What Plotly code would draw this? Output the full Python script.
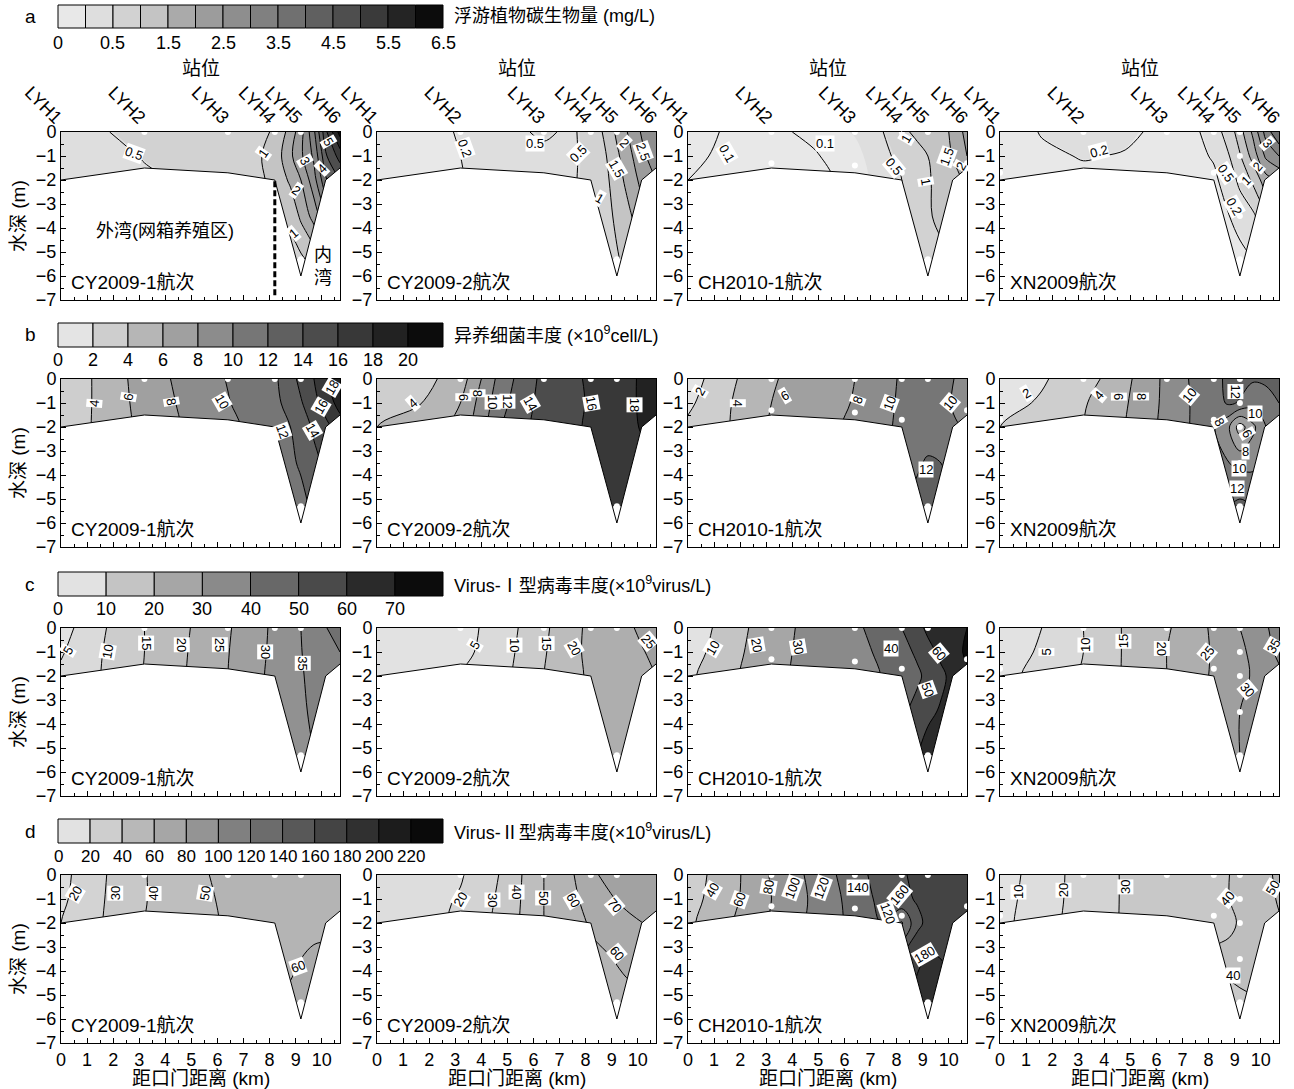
import numpy as np
import plotly.graph_objects as go

W, H = 1294, 1089
FONT = "Liberation Sans Narrow, Arial Narrow, Liberation Sans, Arial, Noto Sans CJK SC, sans-serif"

# ---------------- data ----------------
X_KM = [0, 1.6, 3.2, 4.8, 6.4, 7.4, 8.2, 8.8, 9.2, 9.7, 10.2, 10.7]
DEPTH_M = [0, -1, -2, -3.5, -5.3]
BED_X = [0, 3.2, 6.4, 8.2, 9.2, 10.15, 10.7]
BED_Y = [-2.0, -1.5, -1.7, -2.0, -6.0, -2.0, -1.5]
STATION_X = [0, 3.2, 6.4, 8.2, 9.2, 10.7]
STATION_LABELS = ["LYH1", "LYH2", "LYH3", "LYH4", "LYH5", "LYH6"]
CRUISES = ["CY2009-1航次", "CY2009-2航次", "CH2010-1航次", "XN2009航次"]
X_TICKS = list(range(0, 11))
Y_TICKS = [0, -1, -2, -3, -4, -5, -6, -7]

SAMPLE_X = [
    [3.2, 6.4, 8.2, 9.2, 9.2],
    [3.2, 6.4, 8.2, 9.2, 9.2],
    [3.2, 6.4, 8.2, 9.2, 3.2, 6.4, 8.2, 10.7, 9.2],
    [3.2, 6.4, 8.2, 9.2, 0, 8.2, 9.2, 9.2, 9.2, 9.2],
]
SAMPLE_Y = [
    [0, 0, 0, 0, -5.3],
    [0, 0, 0, 0, -5.3],
    [0, 0, 0, 0, -1.3, -1.4, -1.7, -1.3, -5.3],
    [0, 0, 0, 0, -1.7, -1.7, -1.0, -2.0, -3.5, -5.3],
]

# a: phytoplankton carbon biomass (mg/L)
PHYTO_CY2009_1 = [
    [0.30, 0.48, 0.60, 0.66, 0.72, 0.85, 1.05, 1.7, 2.3, 3.4, 5.0, 6.2],
    [0.30, 0.40, 0.52, 0.62, 0.72, 0.88, 1.2, 1.9, 2.4, 3.1, 4.5, 5.2],
    [0.30, 0.35, 0.45, 0.56, 0.68, 0.88, 1.1, 1.6, 2.0, 2.8, 4.0, 4.5],
    [0.30, 0.35, 0.45, 0.56, 0.68, 0.85, 1.0, 1.1, 1.6, 2.2, 3.0, 3.5],
    [0.30, 0.35, 0.45, 0.56, 0.68, 0.80, 0.85, 0.85, 0.9, 1.2, 2.0, 2.5],
]
PHYTO_CY2009_2 = [
    [0.12, 0.15, 0.21, 0.40, 0.55, 0.45, 0.6, 1.15, 1.6, 2.1, 2.6, 3.0],
    [0.12, 0.15, 0.20, 0.32, 0.42, 0.44, 0.6, 1.0, 1.4, 1.9, 2.4, 2.8],
    [0.12, 0.15, 0.19, 0.30, 0.40, 0.45, 0.6, 0.9, 1.3, 1.7, 2.2, 2.5],
    [0.12, 0.15, 0.19, 0.30, 0.40, 0.45, 0.7, 0.85, 1.1, 1.45, 1.8, 2.0],
    [0.12, 0.15, 0.19, 0.30, 0.40, 0.45, 0.7, 0.8, 0.95, 1.2, 1.5, 1.8],
]
PHYTO_CH2010_1 = [
    [0.13, 0.09, 0.08, 0.12, 0.22, 0.45, 0.9, 1.1, 1.2, 1.35, 1.6, 2.2],
    [0.11, 0.09, 0.08, 0.09, 0.15, 0.35, 0.65, 0.85, 1.0, 1.25, 1.55, 2.0],
    [0.10, 0.09, 0.08, 0.08, 0.12, 0.30, 0.5, 0.8, 0.95, 1.15, 1.35, 1.6],
    [0.10, 0.09, 0.08, 0.08, 0.12, 0.30, 0.6, 0.8, 0.95, 1.1, 1.2, 1.4],
    [0.10, 0.09, 0.08, 0.08, 0.12, 0.30, 0.6, 0.75, 0.8, 0.9, 1.0, 1.2],
]
PHYTO_XN2009 = [
    [0.10, 0.21, 0.26, 0.23, 0.16, 0.15, 0.3, 0.7, 1.3, 2.1, 3.2, 4.0],
    [0.10, 0.17, 0.21, 0.19, 0.14, 0.14, 0.22, 0.5, 0.95, 1.7, 2.6, 3.0],
    [0.10, 0.13, 0.16, 0.15, 0.13, 0.13, 0.16, 0.3, 0.6, 1.1, 1.8, 2.0],
    [0.10, 0.13, 0.16, 0.15, 0.13, 0.13, 0.14, 0.2, 0.25, 0.4, 0.9, 1.2],
    [0.10, 0.13, 0.16, 0.15, 0.13, 0.13, 0.13, 0.14, 0.16, 0.2, 0.4, 0.6],
]

# b: heterotrophic bacteria (x10^9 cell/L)
BACT_CY2009_1 = [
    [2.6, 4.5, 7.0, 8.6, 10.1, 11.0, 11.7, 13.2, 14.6, 16.0, 18.0, 19.5],
    [2.6, 4.5, 6.8, 8.4, 9.9, 10.8, 11.6, 12.6, 13.8, 15.4, 17.0, 18.8],
    [2.7, 4.5, 6.6, 8.2, 9.6, 10.4, 11.4, 12.0, 13.0, 14.3, 15.6, 17.0],
    [2.7, 4.5, 6.6, 8.2, 9.6, 10.4, 11.2, 11.6, 12.3, 13.5, 14.5, 16.0],
    [2.7, 4.5, 6.6, 8.2, 9.6, 10.4, 11.0, 11.0, 11.3, 12.5, 14.0, 15.0],
]
BACT_CY2009_2 = [
    [2.5, 3.2, 5.0, 11.0, 14.6, 15.4, 16.4, 16.8, 17.0, 17.6, 18.4, 19.0],
    [3.0, 3.9, 6.0, 11.5, 14.8, 15.5, 16.2, 16.8, 17.0, 17.6, 18.4, 19.0],
    [4.0, 4.5, 6.5, 12.0, 15.0, 15.6, 16.3, 16.8, 17.0, 17.6, 18.2, 18.8],
    [4.0, 4.5, 6.5, 12.0, 15.0, 15.6, 16.3, 16.6, 16.8, 17.0, 17.5, 18.0],
    [4.0, 4.5, 6.5, 12.0, 15.0, 15.6, 16.3, 16.5, 16.6, 16.8, 17.2, 17.5],
]
BACT_CH2010_1 = [
    [1.0, 3.6, 5.8, 7.0, 8.0, 9.0, 10.3, 10.8, 11.0, 10.8, 10.0, 9.5],
    [1.6, 3.9, 6.0, 7.2, 8.1, 9.2, 10.4, 11.0, 11.0, 10.7, 9.8, 9.2],
    [2.4, 4.0, 6.2, 7.4, 8.3, 9.4, 10.5, 11.0, 11.2, 10.9, 10.2, 9.8],
    [2.4, 4.0, 6.2, 7.4, 8.3, 9.4, 11.0, 11.8, 12.2, 12.0, 11.0, 10.5],
    [2.4, 4.0, 6.2, 7.4, 8.3, 9.4, 12.0, 12.5, 13.0, 12.5, 12.0, 11.0],
]
BACT_XN2009 = [
    [1.2, 1.8, 3.0, 5.5, 8.5, 10.3, 11.5, 12.4, 12.8, 12.2, 12.5, 13.5],
    [1.4, 2.2, 3.8, 5.8, 8.5, 10.2, 11.2, 12.3, 11.8, 10.8, 10.8, 12.0],
    [2.0, 2.8, 4.0, 6.0, 8.6, 10.2, 10.2, 8.0, 5.0, 7.5, 10.0, 11.0],
    [2.0, 2.8, 4.0, 6.0, 8.6, 10.2, 10.5, 10.0, 9.5, 9.5, 10.5, 11.0],
    [2.0, 2.8, 4.0, 6.0, 8.6, 10.2, 11.5, 12.0, 12.5, 12.0, 11.5, 11.0],
]

# c: Virus-I abundance (x10^9 virus/L)
VIRUS1_CY2009_1 = [
    [3.0, 9.5, 15.0, 19.5, 24.5, 28.0, 31.0, 33.5, 35.0, 37.5, 40.0, 42.0],
    [4.5, 10.0, 15.0, 19.8, 24.8, 28.5, 31.0, 33.0, 34.8, 37.0, 39.0, 40.0],
    [6.0, 10.2, 15.2, 20.0, 25.0, 28.8, 31.2, 32.8, 34.5, 36.5, 38.0, 39.0],
    [6.0, 10.2, 15.2, 20.0, 25.0, 28.8, 31.5, 32.5, 34.0, 36.0, 37.0, 38.0],
    [6.0, 10.2, 15.2, 20.0, 25.0, 28.8, 32.0, 32.5, 33.5, 35.0, 36.0, 37.0],
]
VIRUS1_CY2009_2 = [
    [1.0, 1.5, 3.0, 7.5, 14.0, 18.5, 21.0, 22.0, 23.0, 24.5, 26.0, 28.0],
    [1.0, 1.5, 3.5, 8.0, 14.5, 19.0, 20.8, 21.5, 22.5, 23.5, 24.8, 26.0],
    [1.0, 2.5, 5.0, 8.5, 15.0, 19.0, 20.5, 21.0, 22.0, 23.0, 24.0, 25.0],
    [1.0, 2.5, 5.0, 8.5, 15.0, 19.0, 20.5, 20.8, 21.2, 22.0, 23.0, 24.0],
    [1.0, 2.5, 5.0, 8.5, 15.0, 19.0, 20.5, 20.5, 21.0, 21.5, 22.0, 23.0],
]
VIRUS1_CH2010_1 = [
    [3.0, 15.0, 26.0, 33.0, 38.5, 43.0, 50.0, 57.0, 62.0, 66.0, 68.0, 70.0],
    [5.0, 16.5, 26.5, 33.5, 38.0, 41.0, 46.0, 52.0, 57.0, 62.0, 66.0, 72.0],
    [8.0, 18.0, 27.0, 34.0, 38.5, 40.0, 42.0, 48.0, 53.0, 58.0, 63.0, 68.0],
    [8.0, 18.0, 27.0, 34.0, 38.5, 40.0, 48.0, 54.0, 58.0, 61.0, 64.0, 66.0],
    [8.0, 18.0, 27.0, 34.0, 38.5, 40.0, 55.0, 60.0, 64.0, 66.0, 66.0, 66.0],
]
VIRUS1_XN2009 = [
    [2.0, 5.0, 10.0, 15.5, 19.5, 22.5, 26.0, 28.5, 30.0, 32.0, 34.5, 37.0],
    [3.0, 5.5, 10.0, 15.5, 20.0, 23.0, 25.5, 27.5, 29.0, 31.0, 33.5, 36.0],
    [4.0, 6.0, 10.5, 15.5, 20.0, 23.5, 25.5, 27.0, 28.5, 30.5, 32.0, 34.0],
    [4.0, 6.0, 10.5, 15.5, 20.0, 23.5, 26.5, 28.5, 30.0, 31.0, 32.0, 33.0],
    [4.0, 6.0, 10.5, 15.5, 20.0, 23.5, 27.0, 29.0, 30.0, 30.5, 31.0, 32.0],
]

# d: Virus-II abundance (x10^9 virus/L)
VIRUS2_CY2009_1 = [
    [17.0, 29.0, 39.5, 47.5, 52.0, 54.5, 56.0, 57.0, 57.5, 58.0, 58.5, 59.0],
    [18.0, 29.5, 39.5, 46.5, 51.5, 54.0, 56.0, 57.0, 57.5, 58.0, 58.5, 59.0],
    [20.0, 30.0, 40.0, 46.0, 51.0, 53.5, 55.5, 57.0, 57.8, 58.5, 59.0, 59.5],
    [20.0, 30.0, 40.0, 46.0, 51.0, 53.5, 58.0, 59.0, 60.0, 61.0, 61.0, 61.0],
    [20.0, 30.0, 40.0, 46.0, 51.0, 53.5, 60.0, 61.0, 62.0, 62.0, 62.0, 62.0],
]
VIRUS2_CY2009_2 = [
    [10.0, 14.0, 19.0, 31.0, 50.0, 58.0, 68.0, 72.0, 74.0, 76.0, 78.0, 80.0],
    [11.0, 15.0, 21.0, 32.0, 50.0, 57.0, 64.0, 68.0, 70.5, 73.0, 75.0, 77.0],
    [12.0, 16.0, 22.0, 33.0, 50.0, 56.0, 61.0, 64.0, 66.0, 68.0, 70.0, 72.0],
    [12.0, 16.0, 22.0, 33.0, 50.0, 56.0, 58.0, 59.0, 60.5, 62.0, 63.0, 64.0],
    [12.0, 16.0, 22.0, 33.0, 50.0, 56.0, 56.0, 56.0, 57.0, 58.0, 58.0, 58.0],
]
VIRUS2_CH2010_1 = [
    [30.0, 52.0, 82.0, 105.0, 132.0, 148.0, 158.0, 164.0, 168.0, 170.0, 172.0, 175.0],
    [32.0, 54.0, 80.0, 103.0, 128.0, 145.0, 155.0, 162.0, 166.0, 168.0, 170.0, 172.0],
    [36.0, 58.0, 82.0, 104.0, 126.0, 140.0, 118.0, 155.0, 165.0, 168.0, 168.0, 170.0],
    [36.0, 58.0, 82.0, 104.0, 126.0, 140.0, 160.0, 176.0, 182.0, 180.0, 175.0, 172.0],
    [36.0, 58.0, 82.0, 104.0, 126.0, 140.0, 170.0, 188.0, 195.0, 190.0, 180.0, 175.0],
]
VIRUS2_XN2009 = [
    [5.0, 15.0, 24.0, 31.0, 35.0, 37.0, 38.5, 40.0, 42.0, 45.0, 48.0, 52.0],
    [6.0, 15.5, 24.0, 31.0, 35.0, 37.0, 38.5, 40.0, 42.0, 44.0, 47.0, 51.0],
    [7.0, 16.0, 24.5, 31.0, 35.0, 37.0, 38.0, 39.0, 40.5, 43.0, 46.0, 49.0],
    [7.0, 16.0, 24.5, 31.0, 35.0, 37.0, 41.0, 41.5, 42.0, 42.5, 44.0, 46.0],
    [7.0, 16.0, 24.5, 31.0, 35.0, 37.0, 38.0, 38.5, 39.0, 39.5, 40.0, 41.0],
]

# contour-line labels: (km, depth, level, text angle)
LABELS_PHYTO = [
    [(2.8, -0.9, 0.5, 20), (7.76, -0.9, 1, -55), (9.04, -2.42, 2, 35), (9.36, -1.17, 3, 60),
     (10.0, -1.5, 4, -45), (10.25, -0.4, 5, 60), (8.91, -4.22, 1, -40)],
    [(3.38, -0.68, 0.2, 70), (6.06, -0.47, 0.5, 0), (7.72, -0.89, 0.5, -45), (9.51, -0.47, 2, 45),
     (10.2, -0.82, 2.5, 70), (9.19, -1.51, 1.5, 60), (8.55, -2.76, 1, 30)],
    [(1.5, -0.89, 0.1, 60), (5.27, -0.47, 0.1, 0), (8.36, -0.25, 1, -60), (7.9, -1.44, 0.5, 50),
     (9.11, -2.07, 1, 80), (9.94, -1.03, 1.5, -70), (10.47, -1.44, 2, -60)],
    [(3.78, -0.82, 0.2, -15), (8.68, -1.72, 0.5, 55), (9.43, -2.0, 1, -45), (9.88, -1.44, 2, -50),
     (10.26, -0.47, 3, 50), (8.98, -3.11, 0.2, 60)],
]
LABELS_BACT = [
    [(1.26, -1.0, 4, -85), (2.6, -0.74, 6, -80), (4.23, -0.94, 8, 80), (6.17, -0.94, 10, 60),
     (8.49, -2.19, 12, 70), (9.66, -2.13, 14, 60), (9.98, -1.15, 16, -60), (10.39, -0.35, 18, -60)],
    [(1.35, -1.0, 4, -40), (3.3, -0.74, 6, 90), (3.86, -0.6, 8, 90), (4.43, -0.94, 10, 90),
     (5.0, -0.94, 12, 90), (5.89, -1.0, 14, 60), (8.24, -1.0, 16, 80), (9.86, -1.08, 18, 90)],
    [(0.47, -0.53, 2, -60), (1.93, -1.0, 4, 90), (3.71, -0.67, 6, -30), (6.49, -0.88, 8, -70),
     (7.72, -1.0, 10, -70), (9.11, -3.79, 12, 0), (10.03, -1.0, 10, -50)],
    [(1.0, -0.6, 2, -30), (3.77, -0.67, 4, -50), (4.55, -0.74, 6, 90), (5.4, -0.74, 8, 90),
     (7.25, -0.67, 10, -50), (9.02, -0.53, 12, 90), (9.79, -1.43, 10, 0), (8.4, -1.78, 8, 60),
     (9.49, -2.26, 6, 60), (9.41, -3.03, 8, 0), (9.18, -3.72, 10, 0), (9.1, -4.55, 12, 0)],
]
LABELS_VIRUS1 = [
    [(0.26, -0.92, 5, -60), (1.8, -0.99, 10, -80), (3.27, -0.64, 15, 90), (4.65, -0.71, 20, 90),
     (6.11, -0.71, 25, 90), (7.82, -0.99, 30, 90), (9.28, -1.47, 35, 90)],
    [(3.74, -0.71, 5, -60), (5.29, -0.71, 10, 90), (6.51, -0.64, 15, 90), (7.57, -0.85, 20, 60),
     (10.4, -0.57, 25, 50)],
    [(0.94, -0.85, 10, -60), (2.65, -0.71, 20, 80), (4.21, -0.78, 30, 80), (7.78, -0.85, 40, 0),
     (9.64, -1.05, 60, 50), (9.18, -2.58, 50, 70)],
    [(1.79, -0.99, 5, -90), (3.26, -0.71, 10, -90), (4.74, -0.57, 15, -90), (6.21, -0.85, 20, 90),
     (7.93, -1.05, 25, -50), (9.47, -2.58, 30, 50), (10.49, -0.78, 35, -60)],
]
LABELS_VIRUS2 = [
    [(0.54, -0.76, 20, -60), (2.07, -0.76, 30, -90), (3.54, -0.76, 40, -90), (5.52, -0.76, 50, -80),
     (9.1, -3.82, 60, -20)],
    [(3.21, -1.04, 20, -60), (4.41, -1.04, 30, 90), (5.35, -0.69, 40, 90), (6.38, -0.97, 50, 90),
     (7.5, -1.04, 60, 60), (9.13, -1.25, 70, 50), (9.21, -3.26, 60, 50)],
    [(0.92, -0.63, 40, -60), (1.99, -1.04, 60, -70), (3.07, -0.5, 80, -80), (4.03, -0.54, 100, -70),
     (5.14, -0.54, 120, -70), (6.52, -0.5, 140, 0), (8.13, -0.83, 160, -50),
     (7.67, -1.6, 120, 70), (9.09, -3.33, 180, -30)],
    [(0.69, -0.71, 10, -90), (2.42, -0.63, 20, -90), (4.79, -0.5, 30, -90), (8.71, -0.96, 40, -50),
     (8.94, -4.17, 40, 0), (10.45, -0.5, 50, -60)],
]

A_BOUNDS = [0, 0.2, 0.5, 1, 1.5, 2, 2.5, 3, 3.5, 4, 4.5, 5, 5.5, 6, 6.5]
B_BOUNDS = [0, 2, 4, 6, 8, 10, 12, 14, 16, 18, 20, 22]
C_BOUNDS = [0, 10, 20, 30, 40, 50, 60, 70, 80]
D_BOUNDS = [0, 20, 40, 60, 80, 100, 120, 140, 160, 180, 200, 220, 240]
A_TICK_IDX = [0, 2, 4, 6, 8, 10, 12, 14]
A_TICK_TEXT = ["0", "0.5", "1.5", "2.5", "3.5", "4.5", "5.5", "6.5"]

# ---------------- style ----------------
A_GRAYS = [232, 222, 210, 196, 170, 156, 142, 128, 112, 96, 78, 58, 36, 12]
B_GRAYS = [228, 206, 182, 160, 140, 118, 96, 76, 56, 34, 12]
C_GRAYS = [226, 196, 166, 138, 104, 74, 42, 12]
D_GRAYS = [226, 206, 184, 166, 148, 128, 108, 88, 68, 48, 28, 10]

LEFTS = [61, 377, 688, 1000]
PW = 279
TOPS = [132, 379, 628, 875]
PH = 168
CB_X0, CB_X1 = 58, 443
CB_Y = [(5, 28), (323, 347), (572, 596), (819, 843)]
CB_LABEL_Y = [43, 360, 609, 856]
TICK_SIZE = 18


def pxx(x):
    return x / W


def pxy(y):
    return 1 - y / H


def gray(g):
    return f"rgb({g},{g},{g})"


def ramp(v, centers, grays):
    if v <= centers[0]:
        return grays[0]
    if v >= centers[-1]:
        return grays[-1]
    for i in range(len(centers) - 1):
        if centers[i] <= v <= centers[i + 1]:
            t = (v - centers[i]) / (centers[i + 1] - centers[i])
            return int(round(grays[i] + t * (grays[i + 1] - grays[i])))
    return grays[-1]


def band_scale(start, size, end, centers, grays):
    nc = int(round((end - start) / size)) + 1
    return [[k / nc, gray(ramp(start + (k - 0.5) * size, centers, grays))] for k in range(nc + 1)]


def paper_text(x, y, text, size, xanchor="center", angle=0):
    return dict(x=pxx(x), y=pxy(y), xref="paper", yref="paper", text=text,
                showarrow=False, xanchor=xanchor, yanchor="middle", textangle=angle,
                font=dict(size=size))


ROWS = [
    dict(letter="a", title="浮游植物碳生物量 (mg/L)",
         data=[PHYTO_CY2009_1, PHYTO_CY2009_2, PHYTO_CH2010_1, PHYTO_XN2009],
         labels=LABELS_PHYTO, bounds=A_BOUNDS, grays=A_GRAYS),
    dict(letter="b", title="异养细菌丰度 (×10<sup>9</sup>cell/L)",
         data=[BACT_CY2009_1, BACT_CY2009_2, BACT_CH2010_1, BACT_XN2009],
         labels=LABELS_BACT, bounds=B_BOUNDS, grays=B_GRAYS,
         steps=[2, 2, 2, 2], ends=[20, 20, 20, 20]),
    dict(letter="c", title="Virus-Ⅰ型病毒丰度(×10<sup>9</sup>virus/L)",
         data=[VIRUS1_CY2009_1, VIRUS1_CY2009_2, VIRUS1_CH2010_1, VIRUS1_XN2009],
         labels=LABELS_VIRUS1, bounds=C_BOUNDS, grays=C_GRAYS,
         steps=[5, 5, 10, 5], ends=[75, 75, 70, 75]),
    dict(letter="d", title="Virus-Ⅱ型病毒丰度(×10<sup>9</sup>virus/L)",
         data=[VIRUS2_CY2009_1, VIRUS2_CY2009_2, VIRUS2_CH2010_1, VIRUS2_XN2009],
         labels=LABELS_VIRUS2, bounds=D_BOUNDS, grays=D_GRAYS,
         steps=[10, 10, 20, 10], ends=[230, 230, 220, 230]),
]
A_EXTRA_LEVELS = [[], [0.2], [0.1], [0.2]]

fig = go.Figure()
layout = dict(template="none", width=W, height=H, margin=dict(l=0, r=0, t=0, b=0, pad=0),
              paper_bgcolor="white", plot_bgcolor="white", showlegend=False,
              font=dict(family=FONT, size=TICK_SIZE, color="black"))
annotations = []
shapes = []
LINE = dict(color="black", width=1, smoothing=1)

for r, row in enumerate(ROWS):
    bounds = row["bounds"]
    grays = row["grays"]
    centers_val = [(bounds[i] + bounds[i + 1]) / 2 for i in range(len(bounds) - 1)]
    for c in range(4):
        p = r * 4 + c
        xr = "x" if p == 0 else f"x{p + 1}"
        yr = "y" if p == 0 else f"y{p + 1}"
        z = np.array(row["data"][c], dtype=float)
        if r == 0:
            zi = np.interp(z, bounds, list(range(len(bounds))))
            centers_idx = [i + 0.5 for i in range(len(bounds) - 1)]
            n_lv = len(bounds) - 2
            fig.add_trace(go.Contour(
                x=X_KM, y=DEPTH_M, z=zi, autocontour=False,
                contours=dict(start=1, end=n_lv, size=1, coloring="fill", showlines=False),
                colorscale=band_scale(1, 1, n_lv, centers_idx, grays),
                line=dict(width=0, smoothing=1), showscale=False, hoverinfo="skip",
                xaxis=xr, yaxis=yr))
            fig.add_trace(go.Contour(
                x=X_KM, y=DEPTH_M, z=z, autocontour=False,
                contours=dict(start=0.5, end=6.5, size=0.5, coloring="none", showlines=True),
                line=LINE, showscale=False, hoverinfo="skip", xaxis=xr, yaxis=yr))
            for lv in A_EXTRA_LEVELS[c]:
                fig.add_trace(go.Contour(
                    x=X_KM, y=DEPTH_M, z=z,
                    contours=dict(type="constraint", operation="=", value=lv),
                    line=LINE, showscale=False, hoverinfo="skip", xaxis=xr, yaxis=yr))
        else:
            st = row["steps"][c]
            en = row["ends"][c]
            fig.add_trace(go.Contour(
                x=X_KM, y=DEPTH_M, z=z, autocontour=False,
                contours=dict(start=st, end=en, size=st, coloring="fill", showlines=True),
                colorscale=band_scale(st, st, en, centers_val, grays),
                line=LINE, showscale=False, hoverinfo="skip", xaxis=xr, yaxis=yr))
        # mask below sea bed
        fig.add_trace(go.Scatter(
            x=BED_X + [10.7, 10.7, 0, 0], y=BED_Y + [-1.5, -7.0, -7.0, -2.0],
            mode="lines", fill="toself", fillcolor="white", line=dict(width=0),
            hoverinfo="skip", xaxis=xr, yaxis=yr))
        fig.add_trace(go.Scatter(
            x=BED_X, y=BED_Y, mode="lines", line=dict(color="black", width=1),
            hoverinfo="skip", xaxis=xr, yaxis=yr))
        fig.add_trace(go.Scatter(
            x=SAMPLE_X[c], y=SAMPLE_Y[c], mode="markers",
            marker=dict(color="white", size=6), cliponaxis=False,
            hoverinfo="skip", xaxis=xr, yaxis=yr))

        # contour labels with white boxes
        for (lx, ly, lv, ang) in row["labels"][c]:
            annotations.append(dict(x=lx, y=ly, xref=xr, yref=yr, text=f"{lv:g}",
                                    showarrow=False, xanchor="center", yanchor="middle",
                                    textangle=ang, bgcolor="white", borderpad=0,
                                    font=dict(size=13, family="Liberation Sans, Arial, sans-serif")))

        xkey = "xaxis" if p == 0 else f"xaxis{p + 1}"
        ykey = "yaxis" if p == 0 else f"yaxis{p + 1}"
        layout[xkey] = dict(
            domain=[pxx(LEFTS[c]), pxx(LEFTS[c] + PW)], range=[0, 10.7], anchor=yr,
            automargin=False, fixedrange=True,
            showline=True, mirror=True, linecolor="black", linewidth=1,
            ticks="inside", ticklen=5, tickcolor="black", tickmode="array", tickvals=X_TICKS,
            showticklabels=(r == 3), tickfont=dict(size=TICK_SIZE),
            minor=dict(ticks="inside", ticklen=3, tickcolor="black", dtick=0.5, tick0=0),
            showgrid=False, zeroline=False)
        layout[ykey] = dict(
            domain=[pxy(TOPS[r] + PH), pxy(TOPS[r])], range=[-7, 0], anchor=xr,
            automargin=False, fixedrange=True,
            showline=True, mirror=True, linecolor="black", linewidth=1,
            ticks="inside", ticklen=5, tickcolor="black", tickmode="array", tickvals=Y_TICKS,
            tickfont=dict(size=TICK_SIZE),
            minor=dict(ticks="inside", ticklen=3, tickcolor="black", dtick=0.5, tick0=0),
            showgrid=False, zeroline=False)

        # cruise label
        annotations.append(dict(x=0.3, y=-6.25, xref=xr, yref=yr, text=CRUISES[c],
                                showarrow=False, xanchor="left", yanchor="middle",
                                font=dict(size=19)))

        if r == 0:
            tid = 17 + c
            layout[f"xaxis{tid}"] = dict(
                overlaying=xr, side="top", anchor=yr, range=[0, 10.7], automargin=False,
                tickmode="array", tickvals=STATION_X, ticktext=STATION_LABELS,
                tickangle=45, ticks="", showline=False, showgrid=False, zeroline=False,
                tickfont=dict(size=18))
            fig.add_trace(go.Scatter(x=[None], y=[None], xaxis=f"x{tid}", yaxis=yr,
                                     hoverinfo="skip"))
            annotations.append(paper_text(LEFTS[c] + PW / 2, 68, "站位", 19))
        if r == 3:
            annotations.append(paper_text(LEFTS[c] + PW / 2, 1078, "距口门距离 (km)", 19))
        if c == 0:
            annotations.append(paper_text(18, TOPS[r] + PH / 2, "水深 (m)", 19, angle=-90))

    # colour bar
    ncell = len(bounds) - 1
    cw = (CB_X1 - CB_X0) / ncell
    y0, y1 = CB_Y[r]
    for i in range(ncell):
        shapes.append(dict(type="rect", xref="paper", yref="paper",
                           x0=pxx(CB_X0 + i * cw), x1=pxx(CB_X0 + (i + 1) * cw),
                           y0=pxy(y1), y1=pxy(y0), fillcolor=gray(grays[i]),
                           line=dict(color="black", width=1)))
    if r == 0:
        tick_idx, tick_txt = A_TICK_IDX, A_TICK_TEXT
    else:
        tick_idx = list(range(ncell))
        tick_txt = [f"{bounds[i]:g}" for i in tick_idx]
    cb_font = 17 if r == 3 else 18
    for i, t in zip(tick_idx, tick_txt):
        annotations.append(paper_text(CB_X0 + i * cw, CB_LABEL_Y[r], t, cb_font))
    annotations.append(paper_text(452, (y0 + y1) / 2, row["title"], 18, xanchor="left"))
    annotations.append(paper_text(30, (y0 + y1) / 2, row["letter"], 19))

# panel a1 extras
annotations.append(dict(x=4.0, y=-4.1, xref="x", yref="y", text="外湾(网箱养殖区)",
                        showarrow=False, xanchor="center", yanchor="middle",
                        font=dict(size=18)))
annotations.append(dict(x=10.05, y=-5.6, xref="x", yref="y", text="内<br>湾",
                        showarrow=False, xanchor="center", yanchor="middle",
                        font=dict(size=18)))
shapes.append(dict(type="line", xref="x", yref="y", x0=8.2, x1=8.2, y0=-2.05, y1=-6.9,
                   line=dict(color="black", width=3, dash="6px,3px")))

layout["annotations"] = annotations
layout["shapes"] = shapes
fig.update_layout(**layout)
fig.write_html("out.html", config={"displayModeBar": False},
               post_script="document.body.style.margin='0';document.body.style.padding='0';")
